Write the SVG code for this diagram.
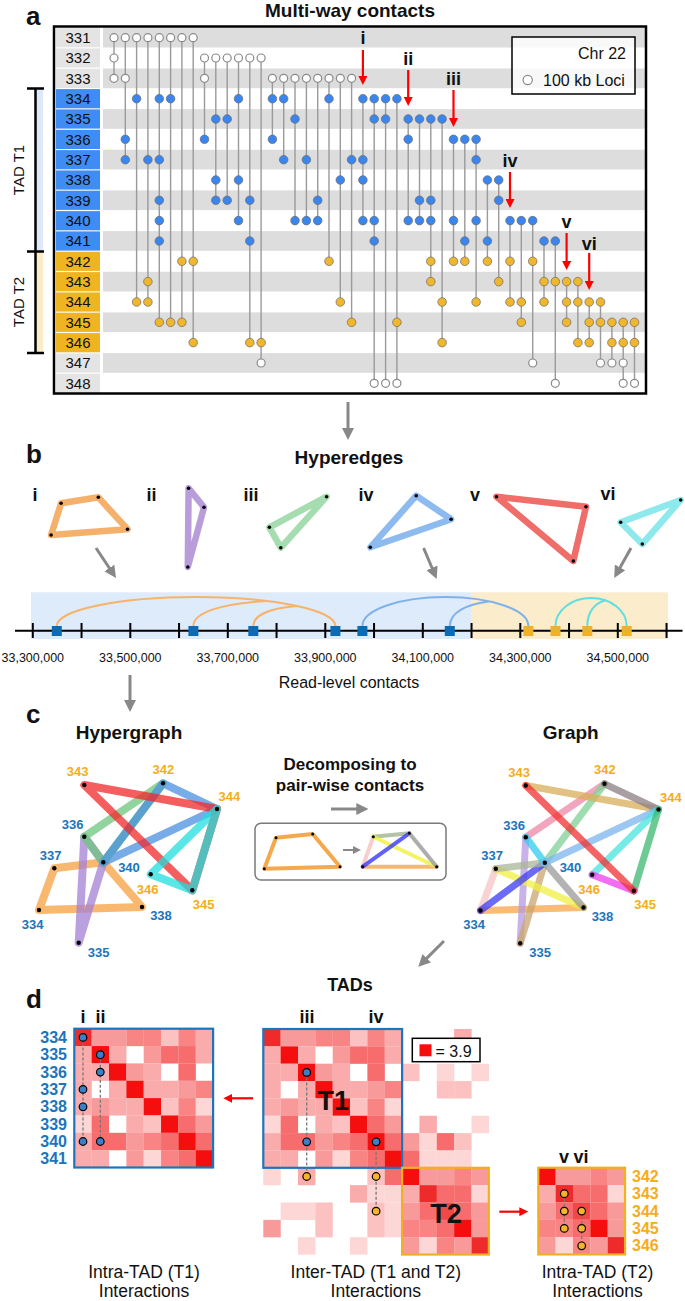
<svg xmlns="http://www.w3.org/2000/svg" xmlns:xlink="http://www.w3.org/1999/xlink" width="685" height="1301" viewBox="0 0 685 1301">
<style>
text{font-family:"Liberation Sans",Arial,Helvetica,sans-serif;fill:#111}
.ttl{font-size:19px;font-weight:bold;text-anchor:middle}
.pl{font-size:26px;font-weight:bold}
.rn{font-size:15px;text-anchor:middle}
.rom{font-size:18px;font-weight:bold;text-anchor:middle}
.o{fill:#fff;stroke:#8a8a8a;stroke-width:1.2}
.b{fill:#3b86ee;stroke:#6a6a6a;stroke-width:.7}
.y{fill:#f0b62c;stroke:#6a6a6a;stroke-width:.7}
.vl{stroke:#9a9a9a;stroke-width:1.4;fill:none}
.band{fill:#dddddd}
.lg{fill:#e4e4e4}.lb{fill:#3f8cf5}.ly{fill:#efb521}
.ra{stroke:#f00;stroke-width:2.2;fill:none;marker-end:url(#mr)}
.ga{stroke:#888;stroke-width:3;fill:none;marker-end:url(#mg)}
.he{fill:none;stroke-width:6.5;stroke-linejoin:round}
.hg{fill:none;stroke-width:8;stroke-linejoin:round;stroke-opacity:.75}
.ge{stroke-width:7;stroke-linecap:round;stroke-opacity:.75}
.ie{stroke-width:4;stroke-linecap:round;stroke-opacity:.8}
.nd{fill:#000}
.nb{font-size:13px;font-weight:bold;fill:#1c75bc;text-anchor:middle}
.ny{font-size:13px;font-weight:bold;fill:#f5ad1c;text-anchor:middle}
.ax{font-size:12.5px;text-anchor:middle}
.hl{font-size:16px;font-weight:bold;fill:#1c75bc;text-anchor:end}
.hy{font-size:16px;font-weight:bold;fill:#f5ad1c}
.cap{font-size:17.5px;text-anchor:middle}
.c1{fill:#fdd6d6}.c2{fill:#fcc2c2}.c3{fill:#faabab}.c4{fill:#f99a9a}.c5{fill:#f88484}.c6{fill:#f76c6c}.c7{fill:#f24848}.c8{fill:#ee2a2a}.c9{fill:#f40e0e}
.db{fill:#3a7fc8;stroke:#000;stroke-width:1.2}
.dy{fill:#f5b52a;stroke:#000;stroke-width:1.2}
.dl{stroke:#777;stroke-width:1.3;stroke-dasharray:3 2;fill:none}
</style>
<defs>
<marker id="mr" viewBox="0 0 10 10" refX="1" refY="5" markerUnits="userSpaceOnUse" markerWidth="9" markerHeight="9" orient="auto"><path d="M0,0 L10,5 L0,10 z" fill="#f00"/></marker>
<marker id="mg" viewBox="0 0 10 10" refX="1" refY="5" markerUnits="userSpaceOnUse" markerWidth="12" markerHeight="12" orient="auto"><path d="M0,0 L10,5 L0,10 z" fill="#888"/></marker>
<marker id="ms" viewBox="0 0 10 10" refX="1" refY="5" markerUnits="userSpaceOnUse" markerWidth="8" markerHeight="8" orient="auto"><path d="M0,0 L10,5 L0,10 z" fill="#888"/></marker>
<g id="m1">
<rect class="c8" x="0" y="0" width="17.45" height="17.45"/><rect class="c4" x="17.35" y="0" width="17.45" height="17.45"/><rect class="c4" x="34.7" y="0" width="17.45" height="17.45"/><rect class="c5" x="52.05" y="0" width="17.45" height="17.45"/><rect class="c5" x="69.4" y="0" width="17.45" height="17.45"/><rect class="c2" x="86.75" y="0" width="17.45" height="17.45"/><rect class="c5" x="104.1" y="0" width="17.45" height="17.45"/><rect class="c3" x="121.45" y="0" width="17.45" height="17.45"/>
<rect class="c3" x="0" y="17.35" width="17.45" height="17.45"/><rect class="c9" x="17.35" y="17.35" width="17.45" height="17.45"/><rect class="c3" x="34.7" y="17.35" width="17.45" height="17.45"/><rect class="c4" x="69.4" y="17.35" width="17.45" height="17.45"/><rect class="c6" x="86.75" y="17.35" width="17.45" height="17.45"/><rect class="c6" x="104.1" y="17.35" width="17.45" height="17.45"/><rect class="c3" x="121.45" y="17.35" width="17.45" height="17.45"/>
<rect class="c3" x="0" y="34.7" width="17.45" height="17.45"/><rect class="c3" x="17.35" y="34.7" width="17.45" height="17.45"/><rect class="c9" x="34.7" y="34.7" width="17.45" height="17.45"/><rect class="c4" x="52.05" y="34.7" width="17.45" height="17.45"/><rect class="c3" x="69.4" y="34.7" width="17.45" height="17.45"/><rect class="c6" x="104.1" y="34.7" width="17.45" height="17.45"/>
<rect class="c3" x="0" y="52.05" width="17.45" height="17.45"/><rect class="c3" x="34.7" y="52.05" width="17.45" height="17.45"/><rect class="c9" x="52.05" y="52.05" width="17.45" height="17.45"/><rect class="c3" x="69.4" y="52.05" width="17.45" height="17.45"/><rect class="c3" x="86.75" y="52.05" width="17.45" height="17.45"/><rect class="c4" x="104.1" y="52.05" width="17.45" height="17.45"/><rect class="c5" x="121.45" y="52.05" width="17.45" height="17.45"/>
<rect class="c3" x="0" y="69.4" width="17.45" height="17.45"/><rect class="c4" x="17.35" y="69.4" width="17.45" height="17.45"/><rect class="c3" x="34.7" y="69.4" width="17.45" height="17.45"/><rect class="c3" x="52.05" y="69.4" width="17.45" height="17.45"/><rect class="c9" x="69.4" y="69.4" width="17.45" height="17.45"/><rect class="c2" x="86.75" y="69.4" width="17.45" height="17.45"/><rect class="c5" x="104.1" y="69.4" width="17.45" height="17.45"/><rect class="c1" x="121.45" y="69.4" width="17.45" height="17.45"/>
<rect class="c1" x="0" y="86.75" width="17.45" height="17.45"/><rect class="c6" x="17.35" y="86.75" width="17.45" height="17.45"/><rect class="c3" x="52.05" y="86.75" width="17.45" height="17.45"/><rect class="c2" x="69.4" y="86.75" width="17.45" height="17.45"/><rect class="c9" x="86.75" y="86.75" width="17.45" height="17.45"/><rect class="c6" x="104.1" y="86.75" width="17.45" height="17.45"/><rect class="c4" x="121.45" y="86.75" width="17.45" height="17.45"/>
<rect class="c3" x="0" y="104.1" width="17.45" height="17.45"/><rect class="c6" x="17.35" y="104.1" width="17.45" height="17.45"/><rect class="c6" x="34.7" y="104.1" width="17.45" height="17.45"/><rect class="c4" x="52.05" y="104.1" width="17.45" height="17.45"/><rect class="c5" x="69.4" y="104.1" width="17.45" height="17.45"/><rect class="c6" x="86.75" y="104.1" width="17.45" height="17.45"/><rect class="c9" x="104.1" y="104.1" width="17.45" height="17.45"/><rect class="c6" x="121.45" y="104.1" width="17.45" height="17.45"/>
<rect class="c3" x="0" y="121.45" width="17.45" height="17.45"/><rect class="c3" x="17.35" y="121.45" width="17.45" height="17.45"/><rect class="c4" x="52.05" y="121.45" width="17.45" height="17.45"/><rect class="c1" x="69.4" y="121.45" width="17.45" height="17.45"/><rect class="c5" x="86.75" y="121.45" width="17.45" height="17.45"/><rect class="c6" x="104.1" y="121.45" width="17.45" height="17.45"/><rect class="c9" x="121.45" y="121.45" width="17.45" height="17.45"/>
</g>
<g id="m2">
<rect class="c9" x="0" y="0" width="17.45" height="17.45"/><rect class="c4" x="17.35" y="0" width="17.45" height="17.45"/><rect class="c4" x="34.7" y="0" width="17.45" height="17.45"/><rect class="c5" x="52.05" y="0" width="17.45" height="17.45"/><rect class="c4" x="69.4" y="0" width="17.45" height="17.45"/>
<rect class="c3" x="0" y="17.35" width="17.45" height="17.45"/><rect class="c8" x="17.35" y="17.35" width="17.45" height="17.45"/><rect class="c6" x="34.7" y="17.35" width="17.45" height="17.45"/><rect class="c6" x="52.05" y="17.35" width="17.45" height="17.45"/><rect class="c1" x="69.4" y="17.35" width="17.45" height="17.45"/>
<rect class="c4" x="0" y="34.7" width="17.45" height="17.45"/><rect class="c6" x="17.35" y="34.7" width="17.45" height="17.45"/><rect class="c7" x="34.7" y="34.7" width="17.45" height="17.45"/><rect class="c6" x="52.05" y="34.7" width="17.45" height="17.45"/><rect class="c4" x="69.4" y="34.7" width="17.45" height="17.45"/>
<rect class="c5" x="0" y="52.05" width="17.45" height="17.45"/><rect class="c5" x="17.35" y="52.05" width="17.45" height="17.45"/><rect class="c6" x="34.7" y="52.05" width="17.45" height="17.45"/><rect class="c9" x="52.05" y="52.05" width="17.45" height="17.45"/><rect class="c4" x="69.4" y="52.05" width="17.45" height="17.45"/>
<rect class="c4" x="0" y="69.4" width="17.45" height="17.45"/><rect class="c1" x="17.35" y="69.4" width="17.45" height="17.45"/><rect class="c5" x="34.7" y="69.4" width="17.45" height="17.45"/><rect class="c4" x="52.05" y="69.4" width="17.45" height="17.45"/><rect class="c8" x="69.4" y="69.4" width="17.45" height="17.45"/>
</g>
</defs>
<rect width="685" height="1301" fill="#fff"/>

<!-- ===== Panel a ===== -->
<g id="panel-a">
<text class="pl" x="26" y="25">a</text>
<text class="ttl" x="350" y="16.5">Multi-way contacts</text>
<g id="row-bands">
<rect class="band" x="103" y="27.8" width="542" height="19.7"/>
<rect class="band" x="103" y="68.5" width="542" height="19.7"/>
<rect class="band" x="103" y="109.1" width="542" height="19.7"/>
<rect class="band" x="103" y="149.8" width="542" height="19.7"/>
<rect class="band" x="103" y="190.4" width="542" height="19.7"/>
<rect class="band" x="103" y="231.1" width="542" height="19.7"/>
<rect class="band" x="103" y="271.8" width="542" height="19.7"/>
<rect class="band" x="103" y="312.4" width="542" height="19.7"/>
<rect class="band" x="103" y="353.1" width="542" height="19.7"/>
</g>
<g id="row-labels">
<rect class="lg" x="56" y="28.1" width="44" height="19.2"/>
<rect class="lg" x="56" y="48.4" width="44" height="19.2"/>
<rect class="lg" x="56" y="68.8" width="44" height="19.2"/>
<rect class="lb" x="56" y="89.1" width="44" height="19.2"/>
<rect class="lb" x="56" y="109.4" width="44" height="19.2"/>
<rect class="lb" x="56" y="129.8" width="44" height="19.2"/>
<rect class="lb" x="56" y="150.1" width="44" height="19.2"/>
<rect class="lb" x="56" y="170.4" width="44" height="19.2"/>
<rect class="lb" x="56" y="190.7" width="44" height="19.2"/>
<rect class="lb" x="56" y="211.1" width="44" height="19.2"/>
<rect class="lb" x="56" y="231.4" width="44" height="19.2"/>
<rect class="ly" x="56" y="251.7" width="44" height="19.2"/>
<rect class="ly" x="56" y="272.1" width="44" height="19.2"/>
<rect class="ly" x="56" y="292.4" width="44" height="19.2"/>
<rect class="ly" x="56" y="312.7" width="44" height="19.2"/>
<rect class="ly" x="56" y="333.1" width="44" height="19.2"/>
<rect class="lg" x="56" y="353.4" width="44" height="19.2"/>
<rect class="lg" x="56" y="373.7" width="44" height="19.2"/>
<text class="rn" x="78" y="43">331</text>
<text class="rn" x="78" y="63.3">332</text>
<text class="rn" x="78" y="83.6">333</text>
<text class="rn" x="78" y="104">334</text>
<text class="rn" x="78" y="124.3">335</text>
<text class="rn" x="78" y="144.6">336</text>
<text class="rn" x="78" y="164.9">337</text>
<text class="rn" x="78" y="185.3">338</text>
<text class="rn" x="78" y="205.6">339</text>
<text class="rn" x="78" y="225.9">340</text>
<text class="rn" x="78" y="246.3">341</text>
<text class="rn" x="78" y="266.6">342</text>
<text class="rn" x="78" y="286.9">343</text>
<text class="rn" x="78" y="307.2">344</text>
<text class="rn" x="78" y="327.6">345</text>
<text class="rn" x="78" y="347.9">346</text>
<text class="rn" x="78" y="368.2">347</text>
<text class="rn" x="78" y="388.6">348</text>
</g>
<g id="tad-brackets">
<rect x="35" y="88.5" width="8" height="163" fill="#dde8fb"/>
<rect x="35" y="251.5" width="8" height="101.5" fill="#fbecc8"/>
<path d="M35.5,88.5 V353 M27,88.5 H44 M27,251.5 H44 M27,353 H44" stroke="#000" stroke-width="2.5" fill="none"/>
<text transform="translate(23.5,170) rotate(-90)" font-size="15" text-anchor="middle">TAD T1</text>
<text transform="translate(23.5,302) rotate(-90)" font-size="15" text-anchor="middle">TAD T2</text>
</g>
<g id="contact-lines">
<path class="vl" d="M114 37.7V78.3 M125.3 37.7V159.7 M136.6 37.7V302 M147.9 37.7V302 M159.3 37.7V322.3 M170.6 37.7V322.3 M181.9 37.7V322.3 M193.2 37.7V342.6 M204.5 58V139.3 M215.8 58V200.3 M227.2 58V200.3 M238.5 58V220.6 M249.8 58V342.6 M261.1 58V363 M272.4 78.3V139.3 M283.7 78.3V159.7 M295 78.3V220.6 M306.4 78.3V220.6 M317.7 78.3V220.6 M329 78.3V261.3 M340.3 78.3V302 M351.6 78.3V322.3 M362.9 98.7V220.6 M374.2 98.7V383.3 M385.6 98.7V383.3 M396.9 98.7V383.3 M408.2 119V220.6 M419.5 119V220.6 M430.8 119V281.6 M442.1 119V342.6 M453.5 139.3V261.3 M464.8 139.3V261.3 M476.1 139.3V302 M487.4 180V261.3 M498.7 180V281.6 M510 220.6V302 M521.3 220.6V322.3 M532.7 220.6V363 M544 241V302 M555.3 241V383.3 M566.6 281.6V322.3 M577.9 281.6V342.6 M589.2 302V342.6 M600.5 302V363 M611.9 322.3V363 M623.2 322.3V383.3 M634.5 322.3V383.3"/>
</g>
<g id="loci-open">
<circle class="o" cx="114" cy="37.7" r="4"/><circle class="o" cx="125.3" cy="37.7" r="4"/><circle class="o" cx="136.6" cy="37.7" r="4"/><circle class="o" cx="147.9" cy="37.7" r="4"/><circle class="o" cx="159.3" cy="37.7" r="4"/><circle class="o" cx="170.6" cy="37.7" r="4"/><circle class="o" cx="181.9" cy="37.7" r="4"/><circle class="o" cx="193.2" cy="37.7" r="4"/>
<circle class="o" cx="114" cy="58" r="4"/><circle class="o" cx="204.5" cy="58" r="4"/><circle class="o" cx="215.8" cy="58" r="4"/><circle class="o" cx="227.2" cy="58" r="4"/><circle class="o" cx="238.5" cy="58" r="4"/><circle class="o" cx="249.8" cy="58" r="4"/><circle class="o" cx="261.1" cy="58" r="4"/>
<circle class="o" cx="114" cy="78.3" r="4"/><circle class="o" cx="125.3" cy="78.3" r="4"/><circle class="o" cx="204.5" cy="78.3" r="4"/><circle class="o" cx="272.4" cy="78.3" r="4"/><circle class="o" cx="283.7" cy="78.3" r="4"/><circle class="o" cx="295" cy="78.3" r="4"/><circle class="o" cx="306.4" cy="78.3" r="4"/><circle class="o" cx="317.7" cy="78.3" r="4"/><circle class="o" cx="329" cy="78.3" r="4"/><circle class="o" cx="340.3" cy="78.3" r="4"/><circle class="o" cx="351.6" cy="78.3" r="4"/>
<circle class="o" cx="261.1" cy="363" r="4"/><circle class="o" cx="532.7" cy="363" r="4"/><circle class="o" cx="600.5" cy="363" r="4"/><circle class="o" cx="611.9" cy="363" r="4"/><circle class="o" cx="623.2" cy="363" r="4"/>
<circle class="o" cx="374.2" cy="383.3" r="4"/><circle class="o" cx="385.6" cy="383.3" r="4"/><circle class="o" cx="396.9" cy="383.3" r="4"/><circle class="o" cx="555.3" cy="383.3" r="4"/><circle class="o" cx="623.2" cy="383.3" r="4"/><circle class="o" cx="634.5" cy="383.3" r="4"/>
</g>
<g id="loci-t1">
<circle class="b" cx="136.6" cy="98.7" r="4.3"/><circle class="b" cx="159.3" cy="98.7" r="4.3"/><circle class="b" cx="170.6" cy="98.7" r="4.3"/><circle class="b" cx="238.5" cy="98.7" r="4.3"/><circle class="b" cx="272.4" cy="98.7" r="4.3"/><circle class="b" cx="283.7" cy="98.7" r="4.3"/><circle class="b" cx="329" cy="98.7" r="4.3"/><circle class="b" cx="362.9" cy="98.7" r="4.3"/><circle class="b" cx="374.2" cy="98.7" r="4.3"/><circle class="b" cx="385.6" cy="98.7" r="4.3"/><circle class="b" cx="396.9" cy="98.7" r="4.3"/>
<circle class="b" cx="215.8" cy="119" r="4.3"/><circle class="b" cx="227.2" cy="119" r="4.3"/><circle class="b" cx="295" cy="119" r="4.3"/><circle class="b" cx="374.2" cy="119" r="4.3"/><circle class="b" cx="385.6" cy="119" r="4.3"/><circle class="b" cx="408.2" cy="119" r="4.3"/><circle class="b" cx="419.5" cy="119" r="4.3"/><circle class="b" cx="430.8" cy="119" r="4.3"/><circle class="b" cx="442.1" cy="119" r="4.3"/>
<circle class="b" cx="125.3" cy="139.3" r="4.3"/><circle class="b" cx="204.5" cy="139.3" r="4.3"/><circle class="b" cx="272.4" cy="139.3" r="4.3"/><circle class="b" cx="408.2" cy="139.3" r="4.3"/><circle class="b" cx="453.5" cy="139.3" r="4.3"/><circle class="b" cx="464.8" cy="139.3" r="4.3"/><circle class="b" cx="476.1" cy="139.3" r="4.3"/>
<circle class="b" cx="125.3" cy="159.7" r="4.3"/><circle class="b" cx="147.9" cy="159.7" r="4.3"/><circle class="b" cx="159.3" cy="159.7" r="4.3"/><circle class="b" cx="283.7" cy="159.7" r="4.3"/><circle class="b" cx="306.4" cy="159.7" r="4.3"/><circle class="b" cx="351.6" cy="159.7" r="4.3"/><circle class="b" cx="362.9" cy="159.7" r="4.3"/><circle class="b" cx="476.1" cy="159.7" r="4.3"/>
<circle class="b" cx="215.8" cy="180" r="4.3"/><circle class="b" cx="238.5" cy="180" r="4.3"/><circle class="b" cx="340.3" cy="180" r="4.3"/><circle class="b" cx="362.9" cy="180" r="4.3"/><circle class="b" cx="487.4" cy="180" r="4.3"/><circle class="b" cx="498.7" cy="180" r="4.3"/>
<circle class="b" cx="159.3" cy="200.3" r="4.3"/><circle class="b" cx="215.8" cy="200.3" r="4.3"/><circle class="b" cx="227.2" cy="200.3" r="4.3"/><circle class="b" cx="249.8" cy="200.3" r="4.3"/><circle class="b" cx="317.7" cy="200.3" r="4.3"/><circle class="b" cx="419.5" cy="200.3" r="4.3"/><circle class="b" cx="430.8" cy="200.3" r="4.3"/><circle class="b" cx="498.7" cy="200.3" r="4.3"/>
<circle class="b" cx="159.3" cy="220.6" r="4.3"/><circle class="b" cx="238.5" cy="220.6" r="4.3"/><circle class="b" cx="295" cy="220.6" r="4.3"/><circle class="b" cx="306.4" cy="220.6" r="4.3"/><circle class="b" cx="317.7" cy="220.6" r="4.3"/><circle class="b" cx="362.9" cy="220.6" r="4.3"/><circle class="b" cx="374.2" cy="220.6" r="4.3"/><circle class="b" cx="408.2" cy="220.6" r="4.3"/><circle class="b" cx="419.5" cy="220.6" r="4.3"/><circle class="b" cx="430.8" cy="220.6" r="4.3"/><circle class="b" cx="453.5" cy="220.6" r="4.3"/><circle class="b" cx="476.1" cy="220.6" r="4.3"/><circle class="b" cx="510" cy="220.6" r="4.3"/><circle class="b" cx="521.3" cy="220.6" r="4.3"/><circle class="b" cx="532.7" cy="220.6" r="4.3"/>
<circle class="b" cx="159.3" cy="241" r="4.3"/><circle class="b" cx="249.8" cy="241" r="4.3"/><circle class="b" cx="374.2" cy="241" r="4.3"/><circle class="b" cx="464.8" cy="241" r="4.3"/><circle class="b" cx="487.4" cy="241" r="4.3"/><circle class="b" cx="544" cy="241" r="4.3"/><circle class="b" cx="555.3" cy="241" r="4.3"/>
</g>
<g id="loci-t2">
<circle class="y" cx="181.9" cy="261.3" r="4.3"/><circle class="y" cx="193.2" cy="261.3" r="4.3"/><circle class="y" cx="329" cy="261.3" r="4.3"/><circle class="y" cx="430.8" cy="261.3" r="4.3"/><circle class="y" cx="453.5" cy="261.3" r="4.3"/><circle class="y" cx="464.8" cy="261.3" r="4.3"/><circle class="y" cx="487.4" cy="261.3" r="4.3"/><circle class="y" cx="510" cy="261.3" r="4.3"/><circle class="y" cx="532.7" cy="261.3" r="4.3"/>
<circle class="y" cx="147.9" cy="281.6" r="4.3"/><circle class="y" cx="430.8" cy="281.6" r="4.3"/><circle class="y" cx="498.7" cy="281.6" r="4.3"/><circle class="y" cx="544" cy="281.6" r="4.3"/><circle class="y" cx="555.3" cy="281.6" r="4.3"/><circle class="y" cx="566.6" cy="281.6" r="4.3"/><circle class="y" cx="577.9" cy="281.6" r="4.3"/>
<circle class="y" cx="136.6" cy="302" r="4.3"/><circle class="y" cx="147.9" cy="302" r="4.3"/><circle class="y" cx="340.3" cy="302" r="4.3"/><circle class="y" cx="442.1" cy="302" r="4.3"/><circle class="y" cx="476.1" cy="302" r="4.3"/><circle class="y" cx="510" cy="302" r="4.3"/><circle class="y" cx="521.3" cy="302" r="4.3"/><circle class="y" cx="544" cy="302" r="4.3"/><circle class="y" cx="566.6" cy="302" r="4.3"/><circle class="y" cx="577.9" cy="302" r="4.3"/><circle class="y" cx="589.2" cy="302" r="4.3"/><circle class="y" cx="600.5" cy="302" r="4.3"/>
<circle class="y" cx="159.3" cy="322.3" r="4.3"/><circle class="y" cx="170.6" cy="322.3" r="4.3"/><circle class="y" cx="181.9" cy="322.3" r="4.3"/><circle class="y" cx="351.6" cy="322.3" r="4.3"/><circle class="y" cx="396.9" cy="322.3" r="4.3"/><circle class="y" cx="521.3" cy="322.3" r="4.3"/><circle class="y" cx="566.6" cy="322.3" r="4.3"/><circle class="y" cx="589.2" cy="322.3" r="4.3"/><circle class="y" cx="600.5" cy="322.3" r="4.3"/><circle class="y" cx="611.9" cy="322.3" r="4.3"/><circle class="y" cx="623.2" cy="322.3" r="4.3"/><circle class="y" cx="634.5" cy="322.3" r="4.3"/>
<circle class="y" cx="193.2" cy="342.6" r="4.3"/><circle class="y" cx="249.8" cy="342.6" r="4.3"/><circle class="y" cx="261.1" cy="342.6" r="4.3"/><circle class="y" cx="442.1" cy="342.6" r="4.3"/><circle class="y" cx="577.9" cy="342.6" r="4.3"/><circle class="y" cx="589.2" cy="342.6" r="4.3"/><circle class="y" cx="611.9" cy="342.6" r="4.3"/><circle class="y" cx="623.2" cy="342.6" r="4.3"/><circle class="y" cx="634.5" cy="342.6" r="4.3"/>
</g>
<rect x="54" y="26.5" width="592" height="367" fill="none" stroke="#000" stroke-width="2.5"/>
<g id="legend-a">
<rect x="512" y="37" width="123" height="57" fill="#fff" fill-opacity=".78" stroke="#000" stroke-width="1.5"/>
<text x="626" y="58.5" font-size="16" text-anchor="end">Chr 22</text>
<circle class="o" cx="527.7" cy="80" r="4.6" stroke="#333" stroke-width="1.4"/>
<text x="543" y="85.5" font-size="16">100 kb Loci</text>
</g>
<g id="hyperedge-markers">
<text class="rom" x="362.9" y="44">i</text>
<text class="rom" x="408.2" y="65">ii</text>
<text class="rom" x="453.5" y="85">iii</text>
<text class="rom" x="510" y="167">iv</text>
<text class="rom" x="566.6" y="228">v</text>
<text class="rom" x="589.2" y="250">vi</text>
<path class="ra" d="M362.9,50 V76.9"/>
<path class="ra" d="M408.2,70 V97.9"/>
<path class="ra" d="M453.5,90 V118.9"/>
<path class="ra" d="M510,172 V199.9"/>
<path class="ra" d="M566.6,233 V261.9"/>
<path class="ra" d="M589.2,253 V281.9"/>
</g>
</g>

<!-- ===== Flow arrows ===== -->
<g id="flow-arrows">
<path class="ga" d="M348,402 V429.2"/>
<path class="ga" d="M96,548 L110,569"/>
<path class="ga" d="M423.6,548 L432.5,569"/>
<path class="ga" d="M631,548 L619.5,568.5"/>
<path class="ga" d="M130,675 V701.2"/>
<path class="ga" d="M331,809 H357.5"/>
<path stroke="#888" stroke-width="2" fill="none" marker-end="url(#ms)" d="M343,850 H353.8"/>
<path class="ga" d="M444,941 L425.9,959.1"/>
<path class="ra" d="M253,1098.3 H231.4"/>
<path class="ra" d="M499.3,1211.7 H520.2"/>
</g>

<!-- ===== Panel b ===== -->
<g id="panel-b">
<text class="pl" x="26" y="463">b</text>
<text class="ttl" x="349" y="464">Hyperedges</text>
<g id="he-i"><text class="rom" x="35" y="501">i</text><polygon class="he" stroke="#f5b06c" points="61.1,503.3 98.3,497.3 127.5,529.3 51.1,535"/><circle class="nd" cx="61.1" cy="503.3" r="1.8"/><circle class="nd" cx="98.3" cy="497.3" r="1.8"/><circle class="nd" cx="127.5" cy="529.3" r="1.8"/><circle class="nd" cx="51.1" cy="535" r="1.8"/></g>
<g id="he-ii"><text class="rom" x="151.5" y="501">ii</text><polygon class="he" stroke="#b99ddb" points="188.6,488.3 204,507.3 187.8,567"/><circle class="nd" cx="188.6" cy="488.3" r="1.8"/><circle class="nd" cx="204" cy="507.3" r="1.8"/><circle class="nd" cx="187.8" cy="567" r="1.8"/></g>
<g id="he-iii"><text class="rom" x="251" y="501">iii</text><polygon class="he" stroke="#a5dcb0" points="326.6,496.7 269.4,527.3 280.8,547.7"/><circle class="nd" cx="326.6" cy="496.7" r="1.8"/><circle class="nd" cx="269.4" cy="527.3" r="1.8"/><circle class="nd" cx="280.8" cy="547.7" r="1.8"/></g>
<g id="he-iv"><text class="rom" x="366" y="501">iv</text><polygon class="he" stroke="#8dbbef" points="416.2,495.7 451.1,519.3 370.3,547.3"/><circle class="nd" cx="416.2" cy="495.7" r="1.8"/><circle class="nd" cx="451.1" cy="519.3" r="1.8"/><circle class="nd" cx="370.3" cy="547.3" r="1.8"/></g>
<g id="he-v"><text class="rom" x="475" y="501">v</text><polygon class="he" stroke="#ef6e6a" points="496.5,496.7 586,506.7 573.3,561"/><circle class="nd" cx="496.5" cy="496.7" r="1.8"/><circle class="nd" cx="586" cy="506.7" r="1.8"/><circle class="nd" cx="573.3" cy="561" r="1.8"/></g>
<g id="he-vi"><text class="rom" x="608" y="500">vi</text><polygon class="he" stroke="#8de9ec" points="620.7,522.3 680.7,500 642.3,544"/><circle class="nd" cx="620.7" cy="522.3" r="1.8"/><circle class="nd" cx="680.7" cy="500" r="1.8"/><circle class="nd" cx="642.3" cy="544" r="1.8"/></g>
<g id="read-level">
<rect x="31" y="592.3" width="440" height="46.7" fill="#deebfa"/>
<rect x="471" y="592.3" width="197" height="46.7" fill="#fbeccb"/>
<g fill="none" stroke-width="2">
<path stroke="#f8b26a" d="M56.8,626 A139.3,29 0 0 1 335.4,626 M193.4,626 C193.4,611 228,603 266,601 M253.3,626 C253.3,614 273,608 297,606"/>
<path stroke="#7fb2ea" d="M362.4,626 A83,29 0 0 1 528.4,626 M449.8,626 C449.8,612 468,604 489,601.5"/>
<path stroke="#5fe0e0" d="M555.5,626 A35.6,28 0 0 1 626.7,626 M587.3,626 C587.3,612 595,603 605,600.5"/>
</g>
<path d="M15,630.7 H682.5 M32.8,623V638 M81.55,623V638 M130.3,623V638 M179.05,623V638 M227.8,623V638 M276.55,623V638 M325.3,623V638 M374.05,623V638 M422.8,623V638 M471.55,623V638 M520.3,623V638 M569.05,623V638 M617.8,623V638 M666.55,623V638" stroke="#000" stroke-width="2" fill="none"/>
<g fill="#0b6cb5"><rect x="51.8" y="626" width="10" height="10"/><rect x="188.4" y="626" width="10" height="10"/><rect x="248.3" y="626" width="10" height="10"/><rect x="330.4" y="626" width="10" height="10"/><rect x="357.4" y="626" width="10" height="10"/><rect x="444.8" y="626" width="10" height="10"/></g>
<g fill="#efb12c"><rect x="523.4" y="626" width="10" height="10"/><rect x="550.5" y="626" width="10" height="10"/><rect x="582.3" y="626" width="10" height="10"/><rect x="621.7" y="626" width="10" height="10"/></g>
<text class="ax" x="32.8" y="662">33,300,000</text>
<text class="ax" x="130.3" y="662">33,500,000</text>
<text class="ax" x="227.8" y="662">33,700,000</text>
<text class="ax" x="325.3" y="662">33,900,000</text>
<text class="ax" x="422.8" y="662">34,100,000</text>
<text class="ax" x="520.3" y="662">34,300,000</text>
<text class="ax" x="617.8" y="662">34,500,000</text>
<text x="349" y="688" font-size="16" text-anchor="middle">Read-level contacts</text>
</g>
</g>

<!-- ===== Panel c ===== -->
<g id="panel-c">
<text class="pl" x="26" y="723">c</text>
<text class="ttl" x="129" y="739">Hypergraph</text>
<text class="ttl" x="570.7" y="739">Graph</text>
<text x="350" y="770" font-size="17" font-weight="bold" text-anchor="middle">Decomposing to</text>
<text x="350" y="791" font-size="17" font-weight="bold" text-anchor="middle">pair-wise contacts</text>
<g id="hypergraph-edges">
<polygon class="hg" stroke="#f7a040" points="54.3,868.3 103.3,862.3 142,907 39,910"/>
<polygon class="hg" stroke="#a480d4" points="84.3,836.7 103.3,862.3 78.7,942.7"/>
<polygon class="hg" stroke="#6cc67c" points="84.3,836.7 103.3,862.3 163,783.3"/>
<polygon class="hg" stroke="#4a90e2" points="103.3,862.3 163,783.3 217,809"/>
<polygon class="hg" stroke="#f02828" points="84.3,785 217,809 192.3,890.3"/>
<polygon class="hg" stroke="#22dddd" points="217,809 192.3,890.3 150.7,874.3"/>
</g>
<g id="hypergraph-nodes">
<g id="hg-343"><circle class="nd" cx="84.3" cy="785" r="2.2"/><text class="ny" x="77.7" y="776.2">343</text></g>
<g id="hg-342"><circle class="nd" cx="163" cy="783.3" r="2.2"/><text class="ny" x="163.3" y="773.8">342</text></g>
<g id="hg-344"><circle class="nd" cx="217" cy="809" r="2.2"/><text class="ny" x="229.3" y="801.2">344</text></g>
<g id="hg-336"><circle class="nd" cx="84.3" cy="836.7" r="2.2"/><text class="nb" x="72.7" y="829.2">336</text></g>
<g id="hg-340"><circle class="nd" cx="103.3" cy="862.3" r="2.2"/><text class="nb" x="129" y="871.8">340</text></g>
<g id="hg-337"><circle class="nd" cx="54.3" cy="868.3" r="2.2"/><text class="nb" x="50.7" y="859.8">337</text></g>
<g id="hg-346"><circle class="nd" cx="150.7" cy="874.3" r="2.2"/><text class="ny" x="147.7" y="893.5">346</text></g>
<g id="hg-345"><circle class="nd" cx="192.3" cy="890.3" r="2.2"/><text class="ny" x="203.7" y="908.5">345</text></g>
<g id="hg-334"><circle class="nd" cx="39" cy="910" r="2.2"/><text class="nb" x="32.7" y="928.8">334</text></g>
<g id="hg-338"><circle class="nd" cx="142" cy="907" r="2.2"/><text class="nb" x="161" y="920">338</text></g>
<g id="hg-335"><circle class="nd" cx="78.7" cy="942.7" r="2.2"/><text class="nb" x="98.7" y="956.8">335</text></g>
</g>
<g id="decompose-inset">
<rect x="255" y="823.3" width="191" height="56.7" rx="6" fill="none" stroke="#7a7a7a" stroke-width="1.5"/>
<polygon fill="none" stroke="#f5a84e" stroke-width="4" stroke-linejoin="round" points="276,837.7 312.7,834 340,866.7 264.3,868.7"/>
<circle class="nd" cx="276" cy="837.7" r="1.5"/><circle class="nd" cx="312.7" cy="834" r="1.5"/><circle class="nd" cx="340" cy="866.7" r="1.5"/><circle class="nd" cx="264.3" cy="868.7" r="1.5"/>
<g id="inset-edges">
<line class="ie" stroke="#f7c0c0" x1="373.3" y1="836.7" x2="362.7" y2="866.7"/>
<line class="ie" stroke="#a3b38f" x1="373.3" y1="836.7" x2="409.3" y2="833.3"/>
<line class="ie" stroke="#f8a448" x1="362.7" y1="866.7" x2="436.7" y2="866.7"/>
<line class="ie" stroke="#f0f040" x1="373.3" y1="836.7" x2="436.7" y2="866.7"/>
<line class="ie" stroke="#3a3af5" x1="362.7" y1="866.7" x2="409.3" y2="833.3"/>
<line class="ie" stroke="#999" x1="409.3" y1="833.3" x2="436.7" y2="866.7"/>
</g>
<circle class="nd" cx="373.3" cy="836.7" r="1.5"/><circle class="nd" cx="409.3" cy="833.3" r="1.5"/><circle class="nd" cx="436.7" cy="866.7" r="1.5"/><circle class="nd" cx="362.7" cy="866.7" r="1.5"/>
</g>
<g transform="translate(441.5,0.5)">
<g id="graph-edges">
<line class="ge" stroke="#f7c4c4" x1="39" y1="910" x2="54.3" y2="868.3"/>
<line class="ge" stroke="#f8a448" x1="39" y1="910" x2="142" y2="907"/>
<line class="ge" stroke="#b49ae0" x1="78.7" y1="942.7" x2="84.3" y2="836.7"/>
<line class="ge" stroke="#c9a46e" x1="78.7" y1="942.7" x2="103.3" y2="862.3"/>
<line class="ge" stroke="#f0f040" x1="54.3" y1="868.3" x2="142" y2="907"/>
<line class="ge" stroke="#3a3af5" x1="39" y1="910" x2="103.3" y2="862.3"/>
<line class="ge" stroke="#a9b596" x1="54.3" y1="868.3" x2="103.3" y2="862.3"/>
<line class="ge" stroke="#9a9a9a" x1="142" y1="907" x2="103.3" y2="862.3"/>
<line class="ge" stroke="#ee88a8" x1="84.3" y1="836.7" x2="163" y2="783.3"/>
<line class="ge" stroke="#7fd296" x1="103.3" y1="862.3" x2="163" y2="783.3"/>
<line class="ge" stroke="#33ccee" x1="84.3" y1="836.7" x2="103.3" y2="862.3"/>
<line class="ge" stroke="#d8ae58" x1="84.3" y1="785" x2="217" y2="809"/>
<line class="ge" stroke="#8c7f84" x1="163" y1="783.3" x2="217" y2="809"/>
<line class="ge" stroke="#7ab4ee" x1="103.3" y1="862.3" x2="217" y2="809"/>
<line class="ge" stroke="#48e4dc" x1="217" y1="809" x2="150.7" y2="874.3"/>
<line class="ge" stroke="#3db870" x1="217" y1="809" x2="192.3" y2="890.3"/>
<line class="ge" stroke="#ec3cec" x1="192.3" y1="890.3" x2="150.7" y2="874.3"/>
<line class="ge" stroke="#f23030" x1="84.3" y1="785" x2="192.3" y2="890.3"/>
</g>
<g id="graph-nodes">
<g id="g-343"><circle class="nd" cx="84.3" cy="785" r="2.2"/><text class="ny" x="77.7" y="776.2">343</text></g>
<g id="g-342"><circle class="nd" cx="163" cy="783.3" r="2.2"/><text class="ny" x="163.3" y="773.8">342</text></g>
<g id="g-344"><circle class="nd" cx="217" cy="809" r="2.2"/><text class="ny" x="229.3" y="801.2">344</text></g>
<g id="g-336"><circle class="nd" cx="84.3" cy="836.7" r="2.2"/><text class="nb" x="72.7" y="829.2">336</text></g>
<g id="g-340"><circle class="nd" cx="103.3" cy="862.3" r="2.2"/><text class="nb" x="129" y="871.8">340</text></g>
<g id="g-337"><circle class="nd" cx="54.3" cy="868.3" r="2.2"/><text class="nb" x="50.7" y="859.8">337</text></g>
<g id="g-346"><circle class="nd" cx="150.7" cy="874.3" r="2.2"/><text class="ny" x="147.7" y="893.5">346</text></g>
<g id="g-345"><circle class="nd" cx="192.3" cy="890.3" r="2.2"/><text class="ny" x="203.7" y="908.5">345</text></g>
<g id="g-334"><circle class="nd" cx="39" cy="910" r="2.2"/><text class="nb" x="32.7" y="928.8">334</text></g>
<g id="g-338"><circle class="nd" cx="142" cy="907" r="2.2"/><text class="nb" x="161" y="920">338</text></g>
<g id="g-335"><circle class="nd" cx="78.7" cy="942.7" r="2.2"/><text class="nb" x="98.7" y="956.8">335</text></g>
</g>
</g>
</g>

<!-- ===== Panel d ===== -->
<g id="panel-d">
<text class="pl" x="26" y="1008">d</text>
<text x="350" y="990.5" font-size="18" font-weight="bold" text-anchor="middle">TADs</text>
<g id="intra-t1">
<use xlink:href="#m1" href="#m1" x="74.3" y="1028.7"/>
<rect x="74.3" y="1028.7" width="138.8" height="138.8" fill="none" stroke="#1c75bc" stroke-width="2.2"/>
<text class="hl" x="67" y="1043">334</text>
<text class="hl" x="67" y="1060.3">335</text>
<text class="hl" x="67" y="1077.6">336</text>
<text class="hl" x="67" y="1095">337</text>
<text class="hl" x="67" y="1112.3">338</text>
<text class="hl" x="67" y="1129.7">339</text>
<text class="hl" x="67" y="1147">340</text>
<text class="hl" x="67" y="1164.4">341</text>
<text class="rom" x="83" y="1023">i</text>
<text class="rom" x="100.5" y="1023">ii</text>
<path class="dl" d="M83,1037.4 V1141.5 M100.3,1054.7 V1141.5"/>
<circle class="db" cx="83" cy="1037.4" r="3.8"/><circle class="db" cx="83" cy="1089.4" r="3.8"/><circle class="db" cx="83" cy="1106.8" r="3.8"/><circle class="db" cx="83" cy="1141.5" r="3.8"/>
<circle class="db" cx="100.3" cy="1054.7" r="3.8"/><circle class="db" cx="100.3" cy="1072.1" r="3.8"/><circle class="db" cx="100.3" cy="1141.5" r="3.8"/>
<text class="cap" x="144" y="1278">Intra-TAD (T1)</text>
<text class="cap" x="144" y="1297">Interactions</text>
</g>
<g id="inter-t1-t2">
<g id="off-diagonal">
<rect class="c3" x="454.15" y="1029" width="17.45" height="17.45"/>
<rect class="c2" x="402.1" y="1063.7" width="17.45" height="17.45"/>
<rect class="c1" x="436.8" y="1063.7" width="17.45" height="17.45"/>
<rect class="c1" x="471.5" y="1063.7" width="17.45" height="17.45"/>
<rect class="c2" x="436.8" y="1081.05" width="17.45" height="17.45"/>
<rect class="c2" x="454.15" y="1081.05" width="17.45" height="17.45"/>
<rect class="c3" x="419.45" y="1115.75" width="17.45" height="17.45"/>
<rect class="c1" x="471.5" y="1115.75" width="17.45" height="17.45"/>
<rect class="c4" x="402.1" y="1133.1" width="17.45" height="17.45"/>
<rect class="c1" x="419.45" y="1133.1" width="17.45" height="17.45"/>
<rect class="c6" x="436.8" y="1133.1" width="17.45" height="17.45"/>
<rect class="c2" x="454.15" y="1133.1" width="17.45" height="17.45"/>
<rect class="c6" x="402.1" y="1150.45" width="17.45" height="17.45"/>
<rect class="c1" x="419.45" y="1150.45" width="17.45" height="17.45"/>
<rect class="c1" x="436.8" y="1150.45" width="17.45" height="17.45"/>
<rect class="c1" x="454.15" y="1150.45" width="17.45" height="17.45"/>
<rect class="c1" x="263.3" y="1167.8" width="17.45" height="17.45"/>
<rect class="c3" x="298" y="1167.8" width="17.45" height="17.45"/>
<rect class="c2" x="367.4" y="1167.8" width="17.45" height="17.45"/>
<rect class="c6" x="384.75" y="1167.8" width="17.45" height="17.45"/>
<rect class="c3" x="350.05" y="1185.15" width="17.45" height="17.45"/>
<rect class="c1" x="367.4" y="1185.15" width="17.45" height="17.45"/>
<rect class="c1" x="384.75" y="1185.15" width="17.45" height="17.45"/>
<rect class="c1" x="280.65" y="1202.5" width="17.45" height="17.45"/>
<rect class="c1" x="298" y="1202.5" width="17.45" height="17.45"/>
<rect class="c2" x="315.35" y="1202.5" width="17.45" height="17.45"/>
<rect class="c2" x="367.4" y="1202.5" width="17.45" height="17.45"/>
<rect class="c1" x="384.75" y="1202.5" width="17.45" height="17.45"/>
<rect class="c4" x="263.3" y="1219.85" width="17.45" height="17.45"/>
<rect class="c2" x="315.35" y="1219.85" width="17.45" height="17.45"/>
<rect class="c2" x="367.4" y="1219.85" width="17.45" height="17.45"/>
<rect class="c1" x="384.75" y="1219.85" width="17.45" height="17.45"/>
<rect class="c1" x="298" y="1237.2" width="17.45" height="17.45"/>
<rect class="c1" x="350.05" y="1237.2" width="17.45" height="17.45"/>
</g>
<use xlink:href="#m1" href="#m1" x="263.3" y="1029"/>
<use xlink:href="#m2" href="#m2" x="402.1" y="1167.8"/>
<rect x="263.3" y="1029" width="138.8" height="138.8" fill="none" stroke="#1c75bc" stroke-width="2.2"/>
<rect x="402.1" y="1167.8" width="86.75" height="86.75" fill="none" stroke="#f0b020" stroke-width="2.2"/>
<text x="333.3" y="1110" font-size="27" font-weight="bold" text-anchor="middle">T1</text>
<text x="446" y="1223" font-size="27" font-weight="bold" text-anchor="middle">T2</text>
<text class="rom" x="307" y="1023">iii</text>
<text class="rom" x="376" y="1023">iv</text>
<path class="dl" d="M306.7,1072.4 V1176.5 M376.1,1141.8 V1211.2"/>
<circle class="db" cx="306.7" cy="1072.4" r="3.8"/><circle class="db" cx="306.7" cy="1141.8" r="3.8"/><circle class="dy" cx="306.7" cy="1176.5" r="3.8"/>
<circle class="db" cx="376.1" cy="1141.8" r="3.8"/><circle class="dy" cx="376.1" cy="1176.5" r="3.8"/><circle class="dy" cx="376.1" cy="1211.2" r="3.8"/>
<g id="legend-d">
<rect x="412.3" y="1038.3" width="67.7" height="23.4" fill="#fff" stroke="#000" stroke-width="1.5"/>
<rect x="419.5" y="1044.3" width="12" height="12" fill="#f40e0e"/>
<text x="435.5" y="1056.5" font-size="16">= 3.9</text>
</g>
<text class="cap" x="375.8" y="1278">Inter-TAD (T1 and T2)</text>
<text class="cap" x="375.8" y="1297">Interactions</text>
</g>
<g id="intra-t2">
<use xlink:href="#m2" href="#m2" x="538.3" y="1167.7"/>
<rect x="538.3" y="1167.7" width="86.75" height="86.75" fill="none" stroke="#f0b020" stroke-width="2.2"/>
<text class="hy" x="632" y="1182">342</text>
<text class="hy" x="632" y="1199.3">343</text>
<text class="hy" x="632" y="1216.6">344</text>
<text class="hy" x="632" y="1233.9">345</text>
<text class="hy" x="632" y="1251.3">346</text>
<text class="rom" x="564" y="1163">v</text>
<text class="rom" x="581" y="1163">vi</text>
<path class="dl" d="M564.3,1193.7 V1228.4 M581.7,1211.1 V1245.8"/>
<circle class="dy" cx="564.3" cy="1193.7" r="3.8"/><circle class="dy" cx="564.3" cy="1211.1" r="3.8"/><circle class="dy" cx="564.3" cy="1228.4" r="3.8"/>
<circle class="dy" cx="581.7" cy="1211.1" r="3.8"/><circle class="dy" cx="581.7" cy="1228.4" r="3.8"/><circle class="dy" cx="581.7" cy="1245.8" r="3.8"/>
<text class="cap" x="597.5" y="1278">Intra-TAD (T2)</text>
<text class="cap" x="597.5" y="1297">Interactions</text>
</g>
</g>
</svg>
